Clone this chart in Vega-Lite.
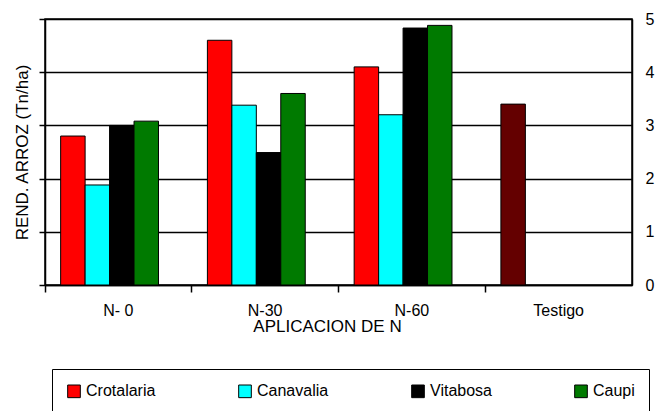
{
  "$schema": "https://vega.github.io/schema/vega-lite/v6.json",
  "autosize": "none",
  "width": 587,
  "height": 266,
  "padding": {"left": 45, "top": 19, "right": 36, "bottom": 126},
  "background": "white",
  "config": {
    "font": "Liberation Sans",
    "view": {"stroke": "black", "strokeWidth": 1.5},
    "axis": {"labelColor": "black", "titleColor": "black", "domainColor": "black", "tickColor": "black", "labelFont": "Liberation Sans", "titleFont": "Liberation Sans", "titleFontWeight": "normal"}
  },
  "data": {
    "values": [
      {"grupo": "N- 0", "slot": "Crotalaria", "serie": "Crotalaria", "valor": 2.8},
      {"grupo": "N- 0", "slot": "Canavalia", "serie": "Canavalia", "valor": 1.88},
      {"grupo": "N- 0", "slot": "Vitabosa", "serie": "Vitabosa", "valor": 3.0},
      {"grupo": "N- 0", "slot": "Caupi", "serie": "Caupi", "valor": 3.08},
      {"grupo": "N-30", "slot": "Crotalaria", "serie": "Crotalaria", "valor": 4.6},
      {"grupo": "N-30", "slot": "Canavalia", "serie": "Canavalia", "valor": 3.38},
      {"grupo": "N-30", "slot": "Vitabosa", "serie": "Vitabosa", "valor": 2.49},
      {"grupo": "N-30", "slot": "Caupi", "serie": "Caupi", "valor": 3.6},
      {"grupo": "N-60", "slot": "Crotalaria", "serie": "Crotalaria", "valor": 4.1},
      {"grupo": "N-60", "slot": "Canavalia", "serie": "Canavalia", "valor": 3.2},
      {"grupo": "N-60", "slot": "Vitabosa", "serie": "Vitabosa", "valor": 4.83},
      {"grupo": "N-60", "slot": "Caupi", "serie": "Caupi", "valor": 4.88},
      {"grupo": "Testigo", "slot": "Crotalaria", "serie": "Testigo", "valor": 3.4}
    ]
  },
  "encoding": {
    "x": {
      "field": "grupo", "type": "nominal",
      "scale": {"domain": ["N- 0", "N-30", "N-60", "Testigo"], "paddingInner": 0, "paddingOuter": 0},
      "axis": {"title": "APLICACION DE N", "labelAngle": 0, "labelFontSize": 16, "titleFontSize": 17, "bandPosition": 0, "tickSize": 7, "labelPadding": 10, "titlePadding": 0, "domainWidth": 1.5, "tickWidth": 1.5, "titleX": 282}
    },
    "xOffset": {
      "field": "slot", "type": "nominal",
      "scale": {"domain": ["Crotalaria", "Canavalia", "Vitabosa", "Caupi"], "paddingInner": 0, "paddingOuter": 1.34, "align": 0.32}
    },
    "y": {
      "field": "valor", "type": "quantitative",
      "scale": {"domain": [0, 5], "nice": false, "zero": true}
    }
  },
  "layer": [
    {
      "mark": {"type": "bar", "stroke": "black", "strokeWidth": 1},
      "encoding": {
        "y": {
          "field": "valor", "type": "quantitative",
          "scale": {"domain": [0, 5], "nice": false},
          "axis": {"orient": "left", "title": "REND. ARROZ (Tn/ha)", "titleFontSize": 17, "labels": false, "values": [0, 1, 2, 3, 4, 5], "tickSize": 6, "grid": true, "gridColor": "black", "gridWidth": 1.5, "gridOpacity": 1, "domainWidth": 1.5, "tickWidth": 1.5, "titlePadding": 7}
        },
        "color": {
          "field": "serie", "type": "nominal",
          "scale": {"domain": ["Crotalaria", "Canavalia", "Vitabosa", "Caupi", "Testigo"], "range": ["#ff0000", "#00ffff", "#000000", "#007a00", "#640000"]},
          "legend": {
            "values": ["Crotalaria", "Canavalia", "Vitabosa", "Caupi"],
            "title": null, "orient": "none", "legendX": 7, "legendY": 350,
            "direction": "horizontal", "columns": 4, "columnPadding": 80,
            "strokeColor": "black", "padding": 14,
            "symbolType": "square", "symbolSize": 160, "symbolStrokeColor": "black", "symbolStrokeWidth": 1, "symbolOpacity": 1,
            "labelFontSize": 16, "labelColor": "black", "labelFont": "Liberation Sans", "labelOffset": 4
          }
        }
      }
    },
    {
      "mark": {"type": "bar", "opacity": 0},
      "encoding": {
        "y": {
          "field": "valor", "type": "quantitative",
          "scale": {"domain": [0, 5], "nice": false},
          "axis": {"orient": "right", "title": null, "values": [0, 1, 2, 3, 4, 5], "ticks": false, "labelPadding": 13, "labelFontSize": 16, "grid": false, "domainWidth": 1.5}
        }
      }
    }
  ],
  "resolve": {"axis": {"y": "independent"}}
}
